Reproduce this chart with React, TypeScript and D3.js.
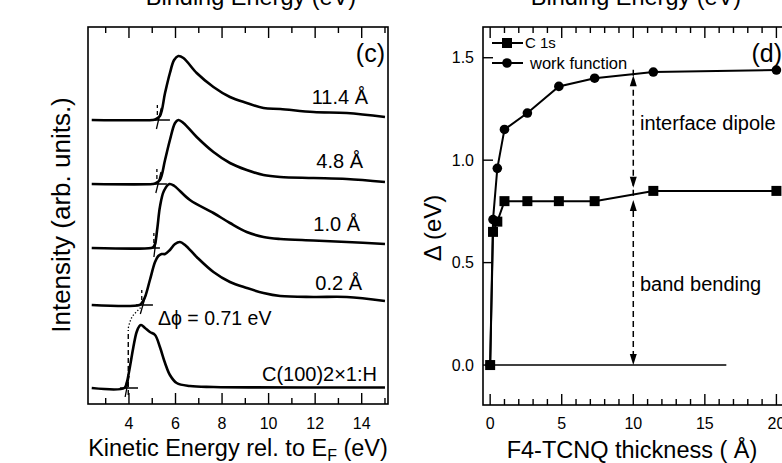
import React from 'react';
import * as d3 from 'd3';

const FONT = '"Liberation Sans", Arial, Helvetica, sans-serif';

// ---------------- Panel (c): secondary electron cut-off spectra ----------------
const specLabels = ['11.4 Å', '4.8 Å', '1.0 Å', '0.2 Å', 'C(100)2×1:H'];
const specOffsets = [284, 220, 156, 99, 16];

const e114 = [2.4, 5.0, 5.12, 5.33, 5.55, 5.76, 5.94, 6.12, 6.34, 6.91, 7.63, 8.34, 9.06, 9.78, 10.5, 11.93, 13.36, 15.0];
const i114 = [0, 0, 0.5, 4, 27, 47, 60, 64, 62, 47, 33, 23, 17, 12, 11, 8, 7, 3];

const e48 = [2.4, 5.02, 5.12, 5.33, 5.55, 5.76, 5.98, 6.12, 6.34, 6.91, 7.63, 8.34, 9.06, 9.78, 10.5, 11.93, 13.36, 15.0];
const i48 = [0, 0, 0.5, 4, 24, 44, 61, 64, 61, 47, 32, 21, 14, 9, 7, 6, 5, 2];

const e10 = [2.4, 4.95, 5.05, 5.12, 5.22, 5.33, 5.5, 5.74, 5.95, 6.62, 7.63, 8.34, 9.06, 9.78, 10.5, 11.93, 13.36, 15.0];
const i10 = [0, 0, 1, 4, 20, 41, 57, 64, 62, 48, 35, 25, 16, 11, 9, 7.5, 6, 4];

const e02 = [2.4, 4.45, 4.55, 4.69, 4.9, 5.12, 5.26, 5.4, 5.55, 5.76, 5.98, 6.19, 6.41, 6.91, 7.63, 8.34, 9.06, 9.78, 10.5, 11.93, 13.36, 15.0];
const i02 = [0, 0, 2, 8, 25, 43, 49, 51, 51, 55, 61, 63, 60, 48, 33, 23, 17, 12, 9, 8, 8, 4];

const eC = [2.4, 3.8, 3.9, 4.04, 4.19, 4.33, 4.45, 4.52, 4.69, 4.9, 5.12, 5.33, 5.55, 5.76, 6.05, 6.62, 7.63, 15.0];
const iC = [0, 0, 5, 21, 41, 56, 62, 63, 60, 56, 53, 41, 25, 13, 5, 2, 1, 0.5];

const specE = [e114, e48, e10, e02, eC];
const specI = [i114, i48, i10, i02, iC];

// onset analysis (tangent crossing baseline), baseline-extension end, edge slope
const onsetE = [5.27, 5.25, 5.12, 4.6, 3.91];
const baseExtEnd = [5.76, 5.63, 5.33, 5.03, 4.39];
const edgeSlope = [100, 95, 190, 81, 121];

// Δφ construction (dashed vertical + dotted connector)
const dashE = [3.97, 3.97];
const dashI = [9, 74];
const dotE = [3.97, 4.04, 4.19, 4.33, 4.47, 4.55];
const dotI = [76, 82, 89, 92.3, 95.7, 97.3];

const cTicks = [3, 4, 5, 6, 7, 8, 9, 10, 11, 12, 13, 14, 15];
const cTickLabels = [4, 6, 8, 10, 12, 14];

// ---------------- Panel (d): energy shifts ----------------
const thickness = [0, 0.2, 0.5, 1.0, 2.6, 4.8, 7.3, 11.4, 20.0];
const c1s = [0, 0.65, 0.7, 0.8, 0.8, 0.8, 0.8, 0.85, 0.85];
const workFunction = [0, 0.71, 0.96, 1.15, 1.23, 1.36, 1.4, 1.43, 1.44];

const dTicksX = d3.range(0, 21, 1);
const dTickLabelsX = [0, 5, 10, 15, 20];
const dTicksY = [0, 0.5, 1.0, 1.5];

const arrowX = 10;
const dipoleRange = [0.865, 1.415];
const bendRange = [0, 0.805];
const zeroLineRange = [0, 16.5];

export default function App() {
  // panel (c) frame
  const cL = 88, cR = 388, cT = 27, cB = 404;
  const xC = d3.scaleLinear().domain([2.24, 15.13]).range([cL, cR]);
  const yC = d3.scaleLinear().domain([0, 377]).range([cB, cT]);

  // panel (d) frame
  const dL = 483, dR = 785, dT = 27, dB = 405;
  const xD = d3.scaleLinear().domain([-0.5, 20.6]).range([dL, dR]);
  const yD = d3.scaleLinear().domain([-0.195, 1.65]).range([dB, dT]);

  const specLine = d3
    .line<[number, number]>()
    .x((d) => xC(d[0]))
    .y((d) => yC(d[1]))
    .curve(d3.curveCatmullRom.alpha(0.5));

  const simpleLineC = d3
    .line<[number, number]>()
    .x((d) => xC(d[0]))
    .y((d) => yC(d[1]));

  const dotLine = d3
    .line<[number, number]>()
    .x((d) => xC(d[0]))
    .y((d) => yC(d[1]))
    .curve(d3.curveMonotoneX);

  const lineD = d3
    .line<[number, number]>()
    .x((d) => xD(d[0]))
    .y((d) => yD(d[1]));

  const labelPos = [
    { x: 368, y: 104 },
    { x: 363, y: 168 },
    { x: 360, y: 231 },
    { x: 362, y: 290 },
    { x: 377, y: 381 },
  ];

  const majorLen = 11;
  const minorLen = 6;

  const arrowHead = (x: number, yTip: number, dir: number) => {
    const len = 11;
    const hw = 3.5;
    return `M${x},${yTip} L${x - hw},${yTip - dir * len} L${x + hw},${yTip - dir * len} Z`;
  };

  const ax = xD(arrowX);

  return (
    <svg width={782} height={463} style={{ display: 'block', position: 'absolute', left: 0, top: 0, background: '#fff' }} fontFamily={FONT}>
      <rect x={0} y={0} width={782} height={463} fill="#fff" />

      {/* top (cut) axis titles */}
      <text x={251} y={5} fontSize={23.5} textAnchor="middle" fill="#000">Binding Energy (eV)</text>
      <text x={636} y={5} fontSize={23.5} textAnchor="middle" fill="#000">Binding Energy (eV)</text>

      {/* ===================== Panel (c) ===================== */}
      <g>
        {specE.map((es, k) => {
          const pts: [number, number][] = es.map((e, j) => [e, specOffsets[k] + specI[k][j]]);
          return <path key={'s' + k} d={specLine(pts) || ''} fill="none" stroke="#000" strokeWidth={2.6} strokeLinejoin="round" />;
        })}
        {onsetE.map((e0, k) => {
          const off = specOffsets[k];
          const s = edgeSlope[k];
          const tan: [number, number][] = [
            [e0 + -9 / s, off - 9],
            [e0 + 12 / s, off + 12],
          ];
          const hz: [number, number][] = [
            [e0 - 0.3, off],
            [baseExtEnd[k], off],
          ];
          const mark: [number, number][] = [
            [e0 - 0.05, off + 5],
            [e0 - 0.05, off + 15],
          ];
          return (
            <g key={'o' + k}>
              <path d={simpleLineC(hz) || ''} stroke="#000" strokeWidth={1.5} fill="none" />
              <path d={simpleLineC(tan) || ''} stroke="#000" strokeWidth={1.3} fill="none" />
              {k < 4 && <path d={simpleLineC(mark) || ''} stroke="#000" strokeWidth={1.3} strokeDasharray="4,3" fill="none" />}
            </g>
          );
        })}
        <path
          d={simpleLineC(dashE.map((e, j) => [e, dashI[j]] as [number, number])) || ''}
          stroke="#000"
          strokeWidth={1.4}
          strokeDasharray="5,3"
          fill="none"
        />
        <path
          d={dotLine(dotE.map((e, j) => [e, dotI[j]] as [number, number])) || ''}
          stroke="#000"
          strokeWidth={1.3}
          strokeDasharray="1.3,2"
          fill="none"
        />

        {specLabels.map((t, k) => (
          <text key={'l' + k} x={labelPos[k].x} y={labelPos[k].y} fontSize={20} textAnchor="end" fill="#000">
            {t}
          </text>
        ))}
        <text x={158} y={325} fontSize={19.5} fill="#000">Δϕ = 0.71 eV</text>
        <text x={385} y={62} fontSize={25} textAnchor="end" fill="#000">(c)</text>

        {/* frame */}
        <rect x={cL} y={cT} width={cR - cL} height={cB - cT} fill="none" stroke="#000" strokeWidth={1.6} />
        {cTicks.map((t) => {
          const len = t % 2 === 0 ? majorLen : minorLen;
          const x = xC(t);
          return (
            <g key={'ct' + t}>
              <line x1={x} x2={x} y1={cB} y2={cB - len} stroke="#000" strokeWidth={1.4} />
              <line x1={x} x2={x} y1={cT} y2={cT + len} stroke="#000" strokeWidth={1.4} />
            </g>
          );
        })}
        {cTickLabels.map((t) => (
          <text key={'cl' + t} x={xC(t)} y={429} fontSize={16} textAnchor="middle" fill="#000">
            {t}
          </text>
        ))}
        <text x={238} y={456} fontSize={23.5} textAnchor="middle" fill="#000">
          Kinetic Energy rel. to E<tspan fontSize={16} dy={5}>F</tspan>
          <tspan dy={-5}> (eV)</tspan>
        </text>
        <text transform="translate(70,215) rotate(-90)" fontSize={26} textAnchor="middle" fill="#000">
          Intensity (arb. units.)
        </text>
      </g>

      {/* ===================== Panel (d) ===================== */}
      <g>
        <path d={lineD([[zeroLineRange[0], 0], [zeroLineRange[1], 0]]) || ''} stroke="#000" strokeWidth={1.5} fill="none" />

        {/* arrows */}
        <line x1={ax} x2={ax} y1={yD(dipoleRange[0]) + 8} y2={yD(dipoleRange[1]) - 8} stroke="#000" strokeWidth={1.5} strokeDasharray="6,4" />
        <path d={arrowHead(ax, yD(dipoleRange[1]), -1)} fill="#000" />
        <path d={arrowHead(ax, yD(dipoleRange[0]), 1)} fill="#000" />
        <line x1={ax} x2={ax} y1={yD(bendRange[0]) - 8} y2={yD(bendRange[1]) + 8} stroke="#000" strokeWidth={1.5} strokeDasharray="6,4" />
        <path d={arrowHead(ax, yD(bendRange[1]), -1)} fill="#000" />
        <path d={arrowHead(ax, yD(bendRange[0]), 1)} fill="#000" />

        {/* series */}
        <path d={lineD(thickness.map((t, j) => [t, c1s[j]] as [number, number])) || ''} stroke="#000" strokeWidth={2} fill="none" />
        <path d={lineD(thickness.map((t, j) => [t, workFunction[j]] as [number, number])) || ''} stroke="#000" strokeWidth={2} fill="none" />
        {thickness.map((t, j) => (
          <circle key={'wf' + j} cx={xD(t)} cy={yD(workFunction[j])} r={4.8} fill="#000" />
        ))}
        {thickness.map((t, j) => (
          <rect key={'c1' + j} x={xD(t) - 5} y={yD(c1s[j]) - 5} width={10} height={10} fill="#000" />
        ))}

        <text x={640} y={130} fontSize={20} fill="#000">interface dipole</text>
        <text x={640} y={291} fontSize={20} fill="#000">band bending</text>
        <text x={782} y={62} fontSize={25} textAnchor="end" fill="#000">(d)</text>

        {/* legend */}
        <line x1={492} x2={523} y1={43} y2={43} stroke="#000" strokeWidth={2} />
        <rect x={502} y={38} width={10} height={10} fill="#000" />
        <text x={525} y={47.5} fontSize={15} fill="#000">C 1s</text>
        <line x1={492} x2={523} y1={63} y2={63} stroke="#000" strokeWidth={2} />
        <circle cx={507} cy={63} r={4.8} fill="#000" />
        <text x={530} y={68.5} fontSize={16.5} fill="#000">work function</text>

        {/* frame */}
        <rect x={dL} y={dT} width={dR - dL} height={dB - dT} fill="none" stroke="#000" strokeWidth={1.6} />
        {dTicksX.map((t) => {
          const len = t % 5 === 0 ? majorLen : minorLen;
          const x = xD(t);
          return (
            <g key={'dt' + t}>
              <line x1={x} x2={x} y1={dB} y2={dB - len} stroke="#000" strokeWidth={1.4} />
              <line x1={x} x2={x} y1={dT} y2={dT + len} stroke="#000" strokeWidth={1.4} />
            </g>
          );
        })}
        {dTicksY.map((t) => (
          <line key={'dy' + t} x1={dL} x2={dL + 10} y1={yD(t)} y2={yD(t)} stroke="#000" strokeWidth={1.4} />
        ))}
        {dTickLabelsX.map((t) => (
          <text key={'dxl' + t} x={xD(t)} y={429} fontSize={16} textAnchor="middle" fill="#000">
            {t}
          </text>
        ))}
        {dTicksY.map((t) => (
          <text key={'dyl' + t} x={474} y={yD(t) + 5.5} fontSize={16} textAnchor="end" fill="#000">
            {d3.format('.1f')(t)}
          </text>
        ))}
        <text x={632} y={458} fontSize={23.5} textAnchor="middle" fill="#000">F4-TCNQ thickness ( Å)</text>
        <text transform="translate(441,228) rotate(-90)" fontSize={24} textAnchor="middle" fill="#000">
          Δ (eV)
        </text>
      </g>
    </svg>
  );
}
